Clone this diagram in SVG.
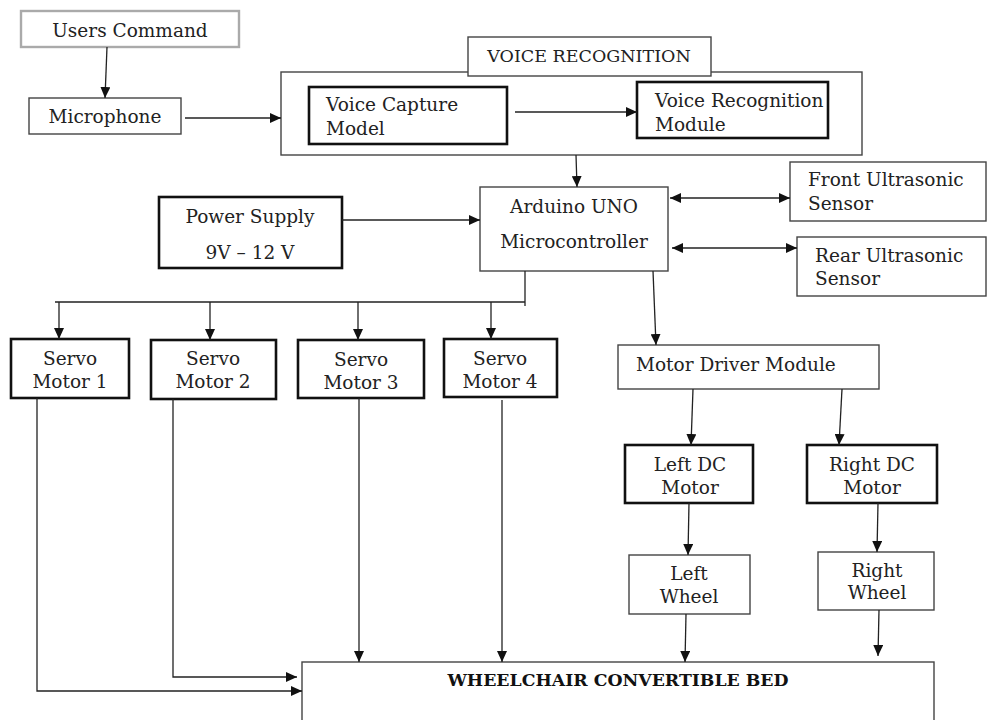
<svg xmlns="http://www.w3.org/2000/svg" width="987" height="720" viewBox="0 0 987 720">
<defs>
<marker id="ah" viewBox="0 0 11 10" markerWidth="11" markerHeight="10" refX="11" refY="5" markerUnits="userSpaceOnUse" orient="auto-start-reverse">
<path d="M0,0 L11,5 L0,10 z" fill="#111"/>
</marker>
<style>
text{font-family:"DejaVu Serif","Liberation Serif",serif;font-size:18.5px;fill:#222}
.c{text-anchor:middle}
.thin{fill:#fff;stroke:#444;stroke-width:1.4}
.thick{fill:#fff;stroke:#111;stroke-width:2.6}
.gray{fill:#fff;stroke:#aaa;stroke-width:2.4}
.ln{fill:none;stroke:#222;stroke-width:1.3}
.ar{fill:none;stroke:#222;stroke-width:1.3;marker-end:url(#ah)}
.ar2{fill:none;stroke:#222;stroke-width:1.3;marker-end:url(#ah);marker-start:url(#ah)}
.b{font-weight:bold;font-size:17.3px;fill:#111}
</style>
</defs>
<rect width="987" height="720" fill="#fff"/>

<g id="users-command"><rect class="gray" x="21" y="11" width="218" height="36"/><text class="c" x="130" y="37">Users Command</text></g>
<g id="microphone"><rect class="thin" x="29" y="98" width="152" height="36"/><text class="c" x="105" y="123">Microphone</text></g>
<g id="voice-recognition"><rect class="thin" x="281" y="72" width="581" height="83"/><rect class="thin" x="468" y="37" width="243" height="39"/><text class="c" x="589" y="62" style="font-size:17.5px">VOICE RECOGNITION</text></g>
<g id="voice-capture"><rect class="thick" x="309" y="87" width="198" height="57"/><text x="326" y="111">Voice Capture</text><text x="326" y="135">Model</text></g>
<g id="voice-recognition-module"><rect class="thick" x="637" y="82" width="191" height="56"/><text x="655" y="107">Voice Recognition</text><text x="655" y="131">Module</text></g>
<g id="power-supply"><rect class="thick" x="159" y="197" width="183" height="71"/><text class="c" x="250" y="223">Power Supply</text><text class="c" x="250" y="259">9V – 12 V</text></g>
<g id="arduino"><rect class="thin" x="480" y="187" width="188" height="84"/><text class="c" x="574" y="213">Arduino UNO</text><text class="c" x="574" y="248">Microcontroller</text></g>
<g id="front-sensor"><rect class="thin" x="790" y="162" width="196" height="59"/><text x="808" y="186">Front Ultrasonic</text><text x="808" y="210">Sensor</text></g>
<g id="rear-sensor"><rect class="thin" x="797" y="237" width="189" height="59"/><text x="815" y="262">Rear Ultrasonic</text><text x="815" y="285">Sensor</text></g>
<g id="servo1"><rect class="thick" x="11" y="339" width="118" height="59"/><text class="c" x="70" y="365">Servo</text><text class="c" x="70" y="388">Motor 1</text></g>
<g id="servo2"><rect class="thick" x="151" y="340" width="125" height="59"/><text class="c" x="213" y="365">Servo</text><text class="c" x="213" y="388">Motor 2</text></g>
<g id="servo3"><rect class="thick" x="298" y="340" width="126" height="58"/><text class="c" x="361" y="366">Servo</text><text class="c" x="361" y="389">Motor 3</text></g>
<g id="servo4"><rect class="thick" x="444" y="339" width="113" height="58"/><text class="c" x="500" y="365">Servo</text><text class="c" x="500" y="388">Motor 4</text></g>
<g id="motor-driver"><rect class="thin" x="618" y="345" width="261" height="44"/><text x="636" y="371">Motor Driver Module</text></g>
<g id="left-dc"><rect class="thick" x="625" y="445" width="128" height="58"/><text class="c" x="690" y="471">Left DC</text><text class="c" x="690" y="494">Motor</text></g>
<g id="right-dc"><rect class="thick" x="807" y="445" width="130" height="58"/><text class="c" x="872" y="471">Right DC</text><text class="c" x="872" y="494">Motor</text></g>
<g id="left-wheel"><rect class="thin" x="629" y="555" width="121" height="59"/><text class="c" x="689" y="580">Left</text><text class="c" x="689" y="603">Wheel</text></g>
<g id="right-wheel"><rect class="thin" x="818" y="552" width="116" height="58"/><text class="c" x="877" y="577">Right</text><text class="c" x="877" y="599">Wheel</text></g>
<g id="bed"><rect class="thin" x="302" y="662" width="632" height="70"/><text class="c b" x="618" y="686">WHEELCHAIR CONVERTIBLE BED</text></g>

<g id="connectors">
<path class="ar" d="M107,47 L105,98"/>
<path class="ar" d="M185,118 L281,118"/>
<path class="ar" d="M515,112 L637,112"/>
<path class="ar" d="M576,155 L577,187"/>
<path class="ar" d="M342,220 L480,220"/>
<path class="ar2" d="M670,198 L790,198"/>
<path class="ar2" d="M672,248 L797,248"/>
<path class="ln" d="M525,271 L525,306 M55,302 L525,302"/>
<path class="ar" d="M59,302 L59,339"/>
<path class="ar" d="M210,302 L210,340"/>
<path class="ar" d="M358,302 L358,340"/>
<path class="ar" d="M491,302 L491,339"/>
<path class="ar" d="M653,271 L656,345"/>
<path class="ar" d="M693,389 L691,445"/>
<path class="ar" d="M842,389 L839,445"/>
<path class="ar" d="M689,503 L688,555"/>
<path class="ar" d="M878,503 L877,552"/>
<path class="ar" d="M686,614 L685,662"/>
<path class="ar" d="M879,610 L878,656"/>
<path class="ar" d="M37,398 L37,691 L302,691"/>
<path class="ar" d="M173,399 L173,677 L297,677"/>
<path class="ar" d="M359,398 L359,662"/>
<path class="ar" d="M502,400 L502,662"/>
</g>
</svg>
